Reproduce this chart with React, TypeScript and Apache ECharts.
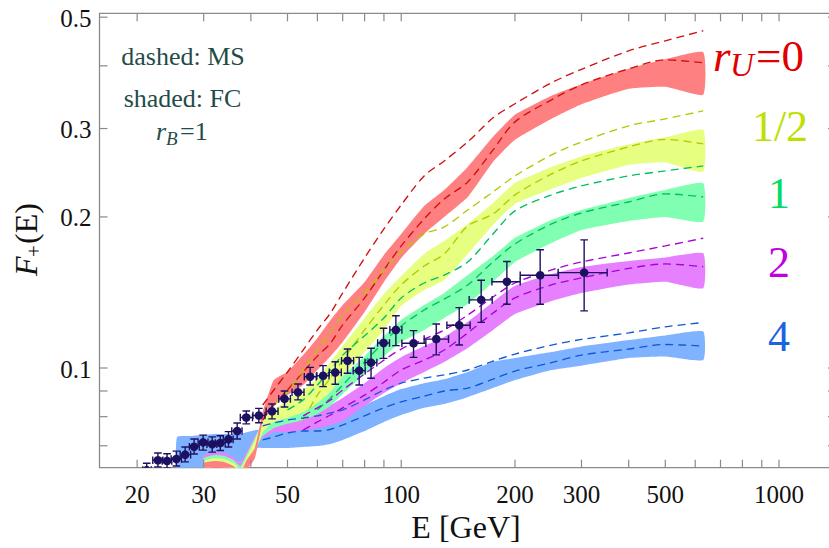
import React, { useEffect, useRef } from "react";
import * as echarts from "echarts";

const X_MIN = 15.9;
const X_MAX = 1415;
const Y_MIN = 0.0633;
const Y_MAX = 0.509;

const X_TICKS_MAJOR = [20, 30, 50, 100, 200, 300, 500, 1000];
const X_TICKS_MINOR = [40, 60, 70, 80, 90, 400, 600, 700, 800, 900];
const Y_TICKS_MAJOR = [0.1, 0.2, 0.3, 0.5];
const Y_TICKS_MINOR = [0.07, 0.08, 0.09, 0.4];

// FC shaded bands
const BAND_E = [25.5, 28, 30, 32, 34, 36, 37.5, 39, 41, 43, 46, 50, 55, 60, 65, 70, 80, 90, 100, 115, 130, 150, 175, 200, 250, 300, 400, 500, 630];
const RED_HI = [null, null, 0.0647, 0.0653, 0.065, 0.0638, 0.062, 0.0656, 0.0693, 0.0817, 0.0946, 0.0983, 0.1061, 0.1148, 0.1247, 0.1335, 0.1484, 0.168, 0.185, 0.2103, 0.2264, 0.2516, 0.2888, 0.3195, 0.3487, 0.3675, 0.3945, 0.4121, 0.4256];
const RED_LO = [null, null, 0.0612, 0.0632, 0.0629, 0.0609, 0.0593, 0.0626, 0.0661, 0.0781, 0.0844, 0.0883, 0.0925, 0.0991, 0.1056, 0.1127, 0.1293, 0.1484, 0.1657, 0.185, 0.2, 0.2192, 0.2574, 0.2848, 0.3137, 0.3353, 0.36, 0.3633, 0.3503];
const YEL_HI = [null, null, 0.0653, 0.0661, 0.0659, 0.0647, 0.0629, 0.0665, 0.0719, 0.0788, 0.0825, 0.0864, 0.0904, 0.0955, 0.1028, 0.1106, 0.1258, 0.1405, 0.1525, 0.1688, 0.1792, 0.1937, 0.2132, 0.2338, 0.2516, 0.264, 0.279, 0.2881, 0.2982];
const YEL_LO = [null, null, 0.062, 0.0638, 0.0632, 0.0617, 0.0601, 0.0638, 0.068, 0.0745, 0.0781, 0.0795, 0.0817, 0.0852, 0.0896, 0.0964, 0.1076, 0.1191, 0.1329, 0.1431, 0.1498, 0.1688, 0.1928, 0.2123, 0.2274, 0.2392, 0.2539, 0.2568, 0.2462];
const GRN_HI = [null, null, 0.0661, 0.0671, 0.0668, 0.0656, 0.0638, 0.0674, 0.0726, 0.0774, 0.0795, 0.0817, 0.0844, 0.0872, 0.0912, 0.0964, 0.1056, 0.1159, 0.1247, 0.1335, 0.1411, 0.1532, 0.1672, 0.1817, 0.1973, 0.2065, 0.2182, 0.2264, 0.2334];
const GRN_LO = [null, null, 0.0632, 0.065, 0.0641, 0.0626, 0.0609, 0.065, 0.0686, 0.0732, 0.0759, 0.0774, 0.0788, 0.081, 0.0841, 0.0888, 0.0973, 0.1056, 0.1127, 0.1191, 0.1258, 0.1341, 0.1484, 0.1627, 0.1775, 0.1884, 0.1964, 0.2, 0.1958];
const PUR_HI = [null, null, 0.0671, 0.068, 0.0677, 0.0665, 0.0647, 0.0683, 0.0732, 0.0759, 0.0781, 0.0788, 0.0803, 0.0821, 0.0844, 0.0872, 0.0933, 0.1, 0.1051, 0.1106, 0.1153, 0.1236, 0.1354, 0.1458, 0.1539, 0.159, 0.1634, 0.1661, 0.1693];
const PUR_LO = [null, null, 0.0641, 0.0659, 0.065, 0.0635, 0.0617, 0.0659, 0.0699, 0.0726, 0.0745, 0.0745, 0.0752, 0.0759, 0.077, 0.0784, 0.0841, 0.0892, 0.0933, 0.0982, 0.1028, 0.1096, 0.1191, 0.1281, 0.136, 0.1411, 0.1467, 0.1486, 0.1442];
const BLU_HI = [0.0729, 0.0732, 0.0736, 0.0739, 0.0739, 0.0739, 0.0739, 0.0745, 0.0752, 0.0755, 0.0759, 0.0762, 0.0774, 0.0784, 0.0795, 0.081, 0.0844, 0.0879, 0.0908, 0.0933, 0.095, 0.0982, 0.1028, 0.1047, 0.1076, 0.1104, 0.1137, 0.1161, 0.1182];
const BLU_LO = [0.0604, 0.0604, 0.0632, 0.067, 0.067, 0.0661, 0.0647, 0.067, 0.0693, 0.0693, 0.0693, 0.0693, 0.0696, 0.0699, 0.0706, 0.0719, 0.0749, 0.0781, 0.0806, 0.0833, 0.0848, 0.0875, 0.0912, 0.0946, 0.0991, 0.1011, 0.1047, 0.1054, 0.1037];

// MS dashed curves
const DASH_E = [43, 46, 50, 55, 60, 65, 70, 80, 90, 100, 115, 130, 150, 175, 200, 250, 300, 400, 500, 630];
const RED_MS_UP = [0.0844, 0.0904, 0.0982, 0.1086, 0.1191, 0.1287, 0.1411, 0.1657, 0.1893, 0.2113, 0.2414, 0.2586, 0.2822, 0.3151, 0.3361, 0.3701, 0.3937, 0.4285, 0.4486, 0.4698];
const RED_MS_IN = [0.0788, 0.0844, 0.0904, 0.0982, 0.1056, 0.1121, 0.1219, 0.1379, 0.1568, 0.1751, 0.1982, 0.2172, 0.2348, 0.272, 0.3093, 0.3423, 0.3667, 0.3945, 0.4112, 0.4056];
const YEL_MS_UP = [null, 0.0844, 0.0896, 0.0991, 0.1086, 0.118, 0.1275, 0.1411, 0.1568, 0.1703, 0.185, 0.191, 0.2065, 0.2243, 0.2414, 0.2658, 0.2822, 0.3037, 0.3136, 0.3254];
const YEL_MS_IN = [null, null, null, 0.0788, 0.0883, 0.0955, 0.1037, 0.1191, 0.1335, 0.1464, 0.1597, 0.1688, 0.1919, 0.2027, 0.2213, 0.2436, 0.2586, 0.2758, 0.2855, 0.2796];
const GRN_MS_UP = [null, null, 0.0825, 0.0864, 0.0925, 0.0991, 0.1061, 0.1159, 0.1258, 0.1379, 0.1477, 0.1532, 0.1627, 0.185, 0.2056, 0.2213, 0.2306, 0.2414, 0.247, 0.2527];
const GRN_MS_IN = [null, null, null, null, 0.0825, 0.0872, 0.0925, 0.1028, 0.1127, 0.1213, 0.1305, 0.1372, 0.1464, 0.1627, 0.1767, 0.1937, 0.2037, 0.2142, 0.2223, 0.2192];
const PUR_MS_UP = [null, null, null, 0.0803, 0.0833, 0.0864, 0.0904, 0.0973, 0.1037, 0.1091, 0.1142, 0.1191, 0.1275, 0.1385, 0.1477, 0.1568, 0.1627, 0.1695, 0.1751, 0.1814];
const PUR_MS_IN = [null, null, null, 0.0752, 0.0781, 0.0806, 0.0833, 0.0883, 0.0937, 0.0991, 0.1037, 0.1086, 0.1175, 0.1287, 0.1379, 0.1464, 0.1512, 0.1579, 0.1612, 0.1592];
const BLU_MS_UP = [0.0767, 0.0777, 0.0788, 0.0795, 0.0803, 0.0814, 0.0825, 0.0864, 0.0904, 0.0933, 0.0955, 0.0969, 0.0991, 0.1032, 0.1066, 0.1111, 0.114, 0.1175, 0.1208, 0.1232];
const BLU_MS_IN = [0.0719, 0.0729, 0.0742, 0.0749, 0.0749, 0.0755, 0.077, 0.0803, 0.0833, 0.0856, 0.0879, 0.09, 0.0912, 0.095, 0.0986, 0.1025, 0.1061, 0.1091, 0.1114, 0.1106];

// measured data points
const E_DATA = [21.2, 22.7, 24.0, 25.4, 26.8, 28.3, 29.9, 31.6, 33.2, 34.9, 36.8, 38.9, 42.0, 45.5, 49.1, 53.3, 57.4, 62.1, 66.9, 72.1, 77.4, 83.2, 89.8, 96.8, 107.8, 123.8, 142.4, 162.8, 190.4, 233.2, 304.9];
const E_LO = [20.7, 22.0, 23.3, 24.6, 26.0, 27.5, 29.0, 30.6, 32.2, 33.8, 35.6, 37.5, 40.5, 43.9, 47.4, 51.4, 55.4, 59.8, 64.5, 69.5, 74.6, 80.2, 86.6, 93.3, 100.4, 115.0, 132.1, 151.3, 173.8, 206.5, 260.2];
const E_HI = [21.8, 23.4, 24.7, 26.2, 27.7, 29.2, 30.8, 32.5, 34.2, 35.9, 37.9, 40.4, 43.6, 47.2, 50.9, 55.3, 59.6, 64.4, 69.4, 74.8, 80.3, 86.2, 93.1, 100.4, 116.2, 133.4, 152.2, 174.1, 206.5, 260.7, 350.8];
const F_DATA = [0.0626, 0.0655, 0.0653, 0.0659, 0.0672, 0.0697, 0.0711, 0.0705, 0.0709, 0.0721, 0.0749, 0.0797, 0.0804, 0.082, 0.0868, 0.0895, 0.0961, 0.0965, 0.098, 0.1034, 0.0988, 0.1025, 0.1122, 0.1191, 0.112, 0.1142, 0.1217, 0.1367, 0.1486, 0.153, 0.1549];
const F_LO = [0.0606, 0.0635, 0.0632, 0.0638, 0.065, 0.0674, 0.0686, 0.068, 0.0685, 0.0696, 0.0722, 0.0774, 0.0778, 0.0792, 0.0836, 0.0864, 0.0925, 0.0918, 0.0928, 0.0976, 0.0925, 0.0954, 0.1045, 0.1108, 0.105, 0.1062, 0.1111, 0.1233, 0.134, 0.134, 0.13];
const F_HI = [0.0646, 0.0677, 0.0675, 0.0683, 0.0696, 0.0722, 0.0735, 0.0729, 0.0733, 0.0747, 0.0777, 0.0821, 0.0831, 0.0848, 0.09, 0.0929, 0.1003, 0.1011, 0.1029, 0.1091, 0.105, 0.1095, 0.12, 0.1271, 0.1187, 0.1224, 0.1319, 0.1496, 0.163, 0.172, 0.18];

const SERIF = "Liberation Serif";
const NAVY = "#1b1160";
const FRAME = "#8a8a8a";

const fontOf = (size: number, italic = false) => `${italic ? "italic" : "normal"} normal ${size}px ${SERIF}`;

const txt = (text: string, x: number, y: number, size: number, fill: string, align = "center", italic = false) => ({
  type: "text",
  x,
  y,
  silent: true,
  z: 20,
  style: {
    text,
    fill,
    font: fontOf(size, italic),
    fontSize: size,
    fontFamily: SERIF,
    fontStyle: italic ? "italic" : "normal",
    align,
    verticalAlign: "middle",
  },
});

const bandSeries = (lo: (number | null)[], hi: (number | null)[], fill: string) => ({
  type: "custom",
  coordinateSystem: "cartesian2d",
  clip: true,
  silent: true,
  z: 1,
  encode: { x: 0, y: 1 },
  data: [[BAND_E[BAND_E.length - 1], hi[hi.length - 1]]],
  renderItem: (params: any, api: any) => {
    const top: number[][] = [];
    const bot: number[][] = [];
    for (let i = 0; i < BAND_E.length; i++) {
      const l = lo[i];
      const h = hi[i];
      if (l == null || h == null) continue;
      top.push(api.coord([BAND_E[i], h]));
      bot.push(api.coord([BAND_E[i], l]));
    }
    bot.reverse();
    return {
      type: "polygon",
      shape: { points: top.concat(bot), smooth: 0.15 },
      style: { fill },
    };
  },
});

const dashSeries = (arr: (number | null)[], color: string) => ({
  type: "line",
  data: DASH_E.map((e, i) => [e, arr[i]]).filter((d) => d[1] != null),
  symbol: "none",
  showSymbol: false,
  smooth: 0.3,
  silent: true,
  clip: true,
  z: 3,
  lineStyle: { color, width: 1.35, type: [8, 5] },
});

const errorSeries = {
  type: "custom",
  coordinateSystem: "cartesian2d",
  clip: true,
  silent: true,
  z: 5,
  encode: { x: 0, y: 1 },
  data: E_DATA.map((e, i) => [e, F_DATA[i]]),
  renderItem: (params: any, api: any) => {
    const i = params.dataIndex;
    const c = api.coord([E_DATA[i], F_DATA[i]]);
    const l = api.coord([E_LO[i], F_DATA[i]]);
    const r = api.coord([E_HI[i], F_DATA[i]]);
    const t = api.coord([E_DATA[i], F_HI[i]]);
    const b = api.coord([E_DATA[i], F_LO[i]]);
    const s = { stroke: NAVY, lineWidth: 1.4 };
    const cap = 3.8;
    const ln = (x1: number, y1: number, x2: number, y2: number) => ({ type: "line", shape: { x1, y1, x2, y2 }, style: s });
    return {
      type: "group",
      children: [
        ln(l[0], l[1], r[0], r[1]),
        ln(t[0], t[1], b[0], b[1]),
        ln(l[0], l[1] - cap, l[0], l[1] + cap),
        ln(r[0], r[1] - cap, r[0], r[1] + cap),
        ln(t[0] - cap, t[1], t[0] + cap, t[1]),
        ln(b[0] - cap, b[1], b[0] + cap, b[1]),
        { type: "circle", shape: { cx: c[0], cy: c[1], r: 4.3 }, style: { fill: NAVY } },
      ],
    };
  },
};

const fmt = (v: number) => String(v);

const labelStyle = (text: string, align: string) => ({
  text,
  fill: "#111",
  font: fontOf(25),
  fontSize: 25,
  fontFamily: SERIF,
  align,
  verticalAlign: "middle",
});

const xTickSeries = {
  type: "custom",
  coordinateSystem: "cartesian2d",
  clip: false,
  silent: true,
  z: 10,
  encode: { x: 0, y: 1 },
  data: [...X_TICKS_MAJOR.map((v) => [v, Y_MIN, 1]), ...X_TICKS_MINOR.map((v) => [v, Y_MIN, 0])],
  renderItem: (params: any, api: any) => {
    const v = api.value(0);
    const major = api.value(2);
    const b = api.coord([v, Y_MIN]);
    const t = api.coord([v, Y_MAX]);
    const s = { stroke: FRAME, lineWidth: 1.2 };
    const children: any[] = [
      { type: "line", shape: { x1: b[0], y1: b[1], x2: b[0], y2: b[1] - 8 }, style: s },
      { type: "line", shape: { x1: t[0], y1: t[1], x2: t[0], y2: t[1] + 8 }, style: s },
    ];
    if (major) {
      children.push({ type: "text", x: b[0], y: b[1] + 27, style: labelStyle(fmt(v), "center") });
    }
    return { type: "group", children };
  },
};

const yTickSeries = {
  type: "custom",
  coordinateSystem: "cartesian2d",
  clip: false,
  silent: true,
  z: 10,
  encode: { x: 0, y: 1 },
  data: [...Y_TICKS_MAJOR.map((v) => [X_MIN, v, 1]), ...Y_TICKS_MINOR.map((v) => [X_MIN, v, 0])],
  renderItem: (params: any, api: any) => {
    const v = api.value(1);
    const major = api.value(2);
    const l = api.coord([X_MIN, v]);
    const r = api.coord([X_MAX, v]);
    const s = { stroke: FRAME, lineWidth: 1.2 };
    const children: any[] = [
      { type: "line", shape: { x1: l[0], y1: l[1], x2: l[0] + 8, y2: l[1] }, style: s },
      { type: "line", shape: { x1: r[0], y1: r[1], x2: r[0] - 8, y2: r[1] }, style: s },
    ];
    if (major) {
      children.push({ type: "text", x: l[0] - 8, y: l[1] + 1, style: labelStyle(fmt(v), "right") });
    }
    return { type: "group", children };
  },
};

const TEAL = "#1f4c4a";

const option: any = {
  animation: false,
  backgroundColor: "#ffffff",
  textStyle: { fontFamily: SERIF },
  grid: { left: 99.5, right: 4, top: 13.3, bottom: 80.3, show: true, borderColor: FRAME, borderWidth: 1.3, backgroundColor: "transparent" },
  xAxis: {
    type: "log",
    logBase: 10,
    min: X_MIN,
    max: X_MAX,
    axisLine: { show: false },
    axisTick: { show: false },
    axisLabel: { show: false },
    splitLine: { show: false },
    minorTick: { show: false },
  },
  yAxis: {
    type: "log",
    logBase: 10,
    min: Y_MIN,
    max: Y_MAX,
    axisLine: { show: false },
    axisTick: { show: false },
    axisLabel: { show: false },
    splitLine: { show: false },
    minorTick: { show: false },
  },
  series: [
    bandSeries(BLU_LO, BLU_HI, "#80b3ff"),
    bandSeries(PUR_LO, PUR_HI, "#e680ff"),
    bandSeries(GRN_LO, GRN_HI, "#80ffb3"),
    bandSeries(YEL_LO, YEL_HI, "#e6ff80"),
    bandSeries(RED_LO, RED_HI, "#ff8080"),
    dashSeries(RED_MS_UP, "#d01010"),
    dashSeries(RED_MS_IN, "#d01010"),
    dashSeries(YEL_MS_UP, "#b4c800"),
    dashSeries(YEL_MS_IN, "#b4c800"),
    dashSeries(GRN_MS_UP, "#00c060"),
    dashSeries(GRN_MS_IN, "#00c060"),
    dashSeries(PUR_MS_UP, "#a800d8"),
    dashSeries(PUR_MS_IN, "#a800d8"),
    dashSeries(BLU_MS_UP, "#1058d8"),
    dashSeries(BLU_MS_IN, "#1058d8"),
    errorSeries,
    xTickSeries,
    yTickSeries,
  ],
  graphic: [
    txt("dashed: MS", 183, 56, 26, TEAL),
    txt("shaded: FC", 182.5, 98, 26, TEAL),
    txt("r", 156, 131, 26, TEAL, "left", true),
    txt("B", 166, 138, 19, TEAL, "left", true),
    txt("=1", 180, 131, 26, TEAL, "left"),
    txt("r", 713, 56, 45, "#e00000", "left", true),
    txt("U", 730, 65, 33, "#e00000", "left", true),
    txt("=0", 756, 56, 45, "#e00000", "left"),
    txt("1/2", 780, 126, 44, "#bde000"),
    txt("1", 779, 193, 44, "#00dc64"),
    txt("2", 779, 262, 44, "#c000e0"),
    txt("4", 779, 336, 44, "#1a64e0"),
    txt("E [GeV]", 466, 527, 32, "#111"),
    {
      type: "group",
      x: 26,
      y: 240,
      rotation: Math.PI / 2,
      silent: true,
      children: [
        txt("F", -36, 0, 32, "#111", "left", true),
        txt("+", -17, 8, 21, "#111", "left"),
        txt("(E)", -4, 0, 32, "#111", "left"),
      ],
    },
  ],
};

export default function App() {
  const ref = useRef<HTMLDivElement>(null);
  useEffect(() => {
    if (!ref.current) return;
    const chart = echarts.init(ref.current, null, { renderer: "svg" });
    chart.setOption(option);
    return () => chart.dispose();
  }, []);
  return <div ref={ref} style={{ position: "fixed", left: 0, top: 0, width: 840, height: 548, background: "#fff" }} />;
}
